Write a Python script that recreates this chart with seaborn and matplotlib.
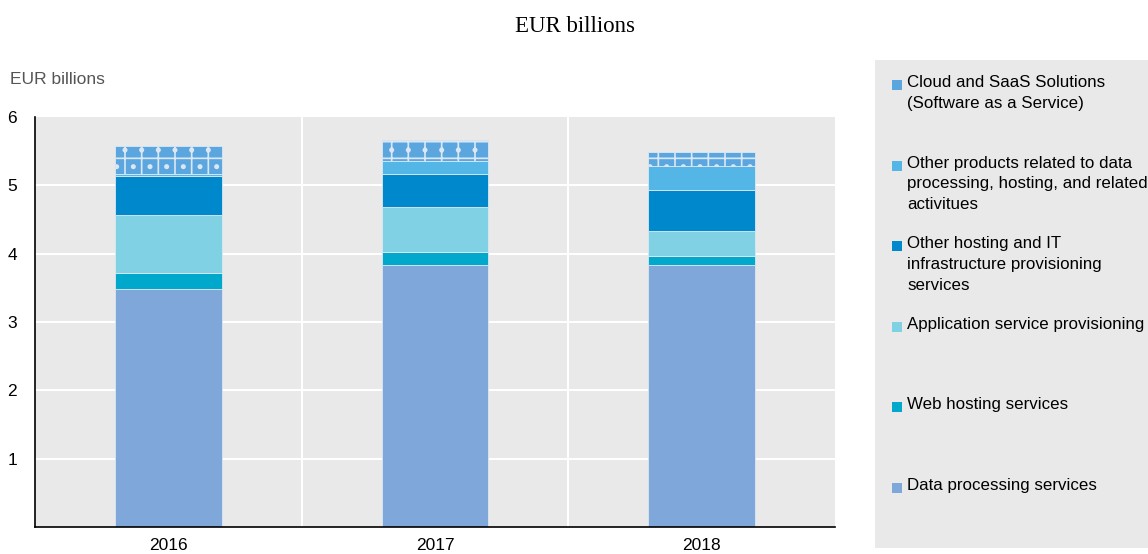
import matplotlib
matplotlib.use("Agg")
import matplotlib.pyplot as plt
from matplotlib.patches import Rectangle
import seaborn as sns
import numpy as np

# Revenue by product type, EUR billions
years = ["2016", "2017", "2018"]
data_processing = [3.48, 3.83, 3.83]
web_hosting = [0.23, 0.19, 0.14]
application_provisioning = [0.86, 0.67, 0.36]
other_hosting_it = [0.57, 0.47, 0.60]
other_products = [0.03, 0.19, 0.35]
cloud_saas = [0.41, 0.31, 0.21]

series_labels = [
    "Data processing services",
    "Web hosting services",
    "Application service provisioning",
    "Other hosting and IT\ninfrastructure provisioning\nservices",
    "Other products related to data\nprocessing, hosting, and related\nactivitues",
    "Cloud and SaaS Solutions\n(Software as a Service)",
]
series_values = [data_processing, web_hosting, application_provisioning,
                 other_hosting_it, other_products, cloud_saas]
series_colors = ["#7fa7d9", "#00a8cb", "#80d1e3", "#0088cc", "#53b6e7", "#5ba6df"]

sns.set_theme(style="white")
plt.rcParams["font.family"] = ["Liberation Sans", "DejaVu Sans"]
plt.rcParams["hatch.color"] = "#f4f8fc"
plt.rcParams["hatch.linewidth"] = 1.2

W, H = 1148, 554
fig = plt.figure(figsize=(W / 100, H / 100), dpi=100)
ax = fig.add_axes([35 / W, (H - 527) / H, 800 / W, (527 - 117) / H])
bg = "#e9e9e9"
ax.set_facecolor(bg)

bottom = np.zeros(len(years))
for i, (vals, color) in enumerate(zip(series_values, series_colors)):
    kw = {}
    if i == len(series_values) - 1:
        kw["hatch"] = "+."
    sns.barplot(x=years, y=vals, bottom=bottom, color=color, saturation=1,
                width=0.4, ax=ax, edgecolor="#dbe8f3", linewidth=0.6, **kw)
    bottom = bottom + np.array(vals)

ax.set_xlim(-0.5, 2.5)
ax.set_ylim(0, 6)
ax.set_yticks([1, 2, 3, 4, 5, 6])
ax.set_yticklabels(["1", "2", "3", "4", "5", "6"])
ax.set_xticks(np.arange(-0.5, 3, 1), minor=True)
ax.tick_params(axis="x", which="major", length=0, labelsize=12.5, colors="black", pad=8)
ax.tick_params(axis="x", which="minor", direction="in", length=6, width=1, color="black")
ax.tick_params(axis="y", which="major", direction="in", length=6, width=1, color="black",
               labelsize=12.5, labelcolor="black", pad=13)
ax.grid(False)
ax.set_axisbelow(True)
for y in range(1, 6):
    ax.axhline(y, color="white", linewidth=1.5, zorder=0)
for x in [0.5, 1.5]:
    ax.axvline(x, color="white", linewidth=1.5, zorder=0)
for s in ["top", "right"]:
    ax.spines[s].set_visible(False)
for s in ["left", "bottom"]:
    ax.spines[s].set_color("black")
    ax.spines[s].set_linewidth(1.2)
ax.set_xlabel("")
ax.set_ylabel("")

fig.text(575 / W, 1 - 27 / H, "EUR billions", ha="center", va="center",
         fontsize=16.5, family="Liberation Serif", color="black")
fig.text(10 / W, 1 - 79 / H, "EUR billions", ha="left", va="center",
         fontsize=12.5, color="#555555")

# legend panel
fig.patches.append(Rectangle((875 / W, (H - 548) / H), 300 / W, 488 / H,
                             transform=fig.transFigure, facecolor=bg,
                             edgecolor="none", zorder=0))
step = 80.6
for k, idx in enumerate(range(len(series_labels) - 1, -1, -1)):
    yc = 85 + k * step
    kw = {}
    if idx == len(series_labels) - 1:
        kw["hatch"] = "+."
    fig.patches.append(Rectangle((892 / W, (H - yc - 5) / H), 10 / W, 10 / H,
                                 transform=fig.transFigure,
                                 facecolor=series_colors[idx], edgecolor="none",
                                 linewidth=0, **kw))
    fig.text(907 / W, 1 - (yc - 10) / H, series_labels[idx], ha="left", va="top",
             fontsize=12.2, color="black", linespacing=1.48)

fig.savefig("out.png", dpi=100)
